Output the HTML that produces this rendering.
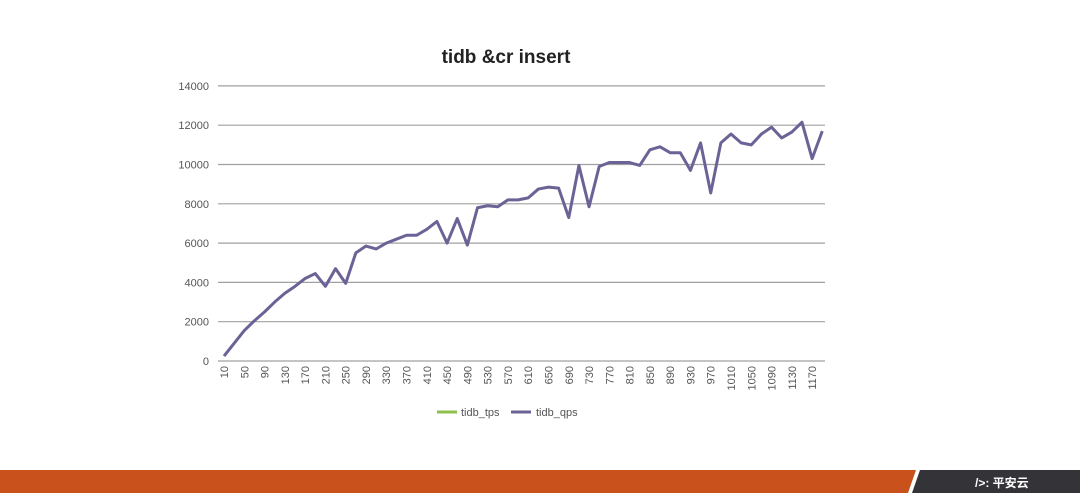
<!DOCTYPE html>
<html><head><meta charset="utf-8"><style>
body{margin:0;width:1080px;height:493px;background:#fff;overflow:hidden;font-family:"Liberation Sans","Noto Sans CJK SC",sans-serif}
</style></head><body>
<svg id="s" width="1080" height="493" xmlns="http://www.w3.org/2000/svg" font-family="Liberation Sans, Noto Sans CJK SC, sans-serif">
<text x="506" y="63" text-anchor="middle" font-size="19" font-weight="bold" fill="#222">tidb &amp;cr insert</text>
<g id="grid"></g>
<g id="xl"></g>
<polyline id="ln" fill="none" stroke="#6b6396" stroke-width="3" stroke-linejoin="round"/>
<line x1="437" y1="412" x2="457" y2="412" stroke="#8fbf4f" stroke-width="3"/>
<text x="461" y="416" font-size="11" fill="#555">tidb_tps</text>
<line x1="511" y1="412" x2="531" y2="412" stroke="#6b6396" stroke-width="3"/>
<text x="536" y="416" font-size="11" fill="#555">tidb_qps</text>
<polygon points="0,470 916,470 908,493 0,493" fill="#c9521c"/>
<polygon points="920,470 1080,470 1080,493 912,493" fill="#333338"/>
<text x="975" y="487" font-size="12" fill="#fff" font-weight="bold">/&gt;: 平安云</text>
</svg>
<script>
var d=[250,900,1550,2050,2500,3000,3450,3800,4200,4450,3800,4700,3950,5500,5850,5700,6000,6200,6400,6400,6700,7100,6000,7250,5900,7800,7900,7850,8200,8200,8300,8750,8850,8800,7300,9950,7850,9900,10100,10100,10100,9950,10750,10900,10600,10600,9700,11100,8550,11100,11550,11100,11000,11550,11900,11350,11650,12150,10300,11700];
var NS="http://www.w3.org/2000/svg",g=document.getElementById('grid'),xl=document.getElementById('xl');
function Y(v){return 361-v/2000*39.3}
function X(i){return 224+i*10.14}
for(var k=0;k<=7;k++){var y=Y(k*2000);
var l=document.createElementNS(NS,'line');l.setAttribute('x1',218);l.setAttribute('x2',825);l.setAttribute('y1',y);l.setAttribute('y2',y);l.setAttribute('stroke','#a0a0a0');l.setAttribute('stroke-width','1.2');g.appendChild(l);
var t=document.createElementNS(NS,'text');t.setAttribute('x',209);t.setAttribute('y',y+4);t.setAttribute('text-anchor','end');t.setAttribute('font-size','11');t.setAttribute('fill','#555');t.textContent=k*2000;g.appendChild(t);}
for(var i=0;i<60;i+=2){var t=document.createElementNS(NS,'text');var x=X(i)+4;t.setAttribute('transform','translate('+x+',366) rotate(-90)');t.setAttribute('text-anchor','end');t.setAttribute('font-size','11');t.setAttribute('fill','#555');t.textContent=10+i*20;xl.appendChild(t);}
document.getElementById('ln').setAttribute('points',d.map(function(v,i){return X(i)+','+Y(v)}).join(' '));
</script>
</body></html>
